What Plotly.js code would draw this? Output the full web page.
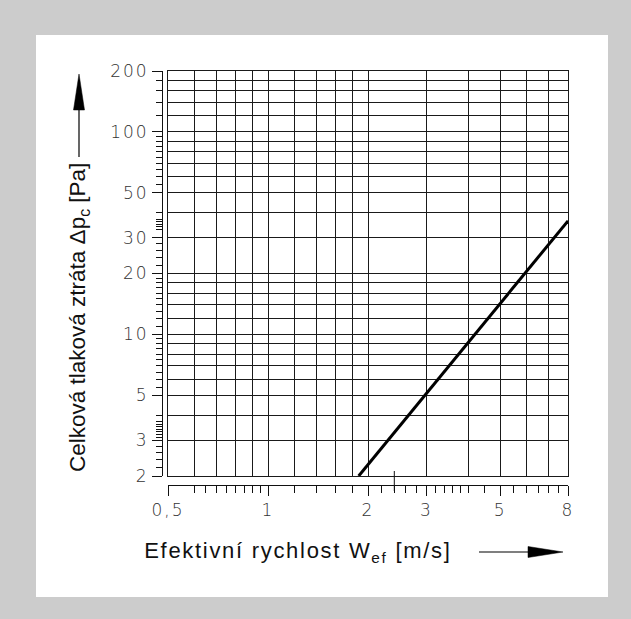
<!DOCTYPE html>
<html>
<head>
<meta charset="utf-8">
<script src="https://cdn.plot.ly/plotly-3.0.1.min.js"></script>
<style>
html,body{margin:0;padding:0;background:#cccccc;}
.x2tick text, text.x2tick, .y2tick text, text.y2tick { letter-spacing: 2px; }
.annotation[data-index="1"] text { letter-spacing: 1.7px; }
</style>
</head>
<body>
<div id="chart" style="width:631px;height:619px;"></div>
<script>
// ---- data ----
var lossVelocity = [1.875, 3, 8];        // W_ef [m/s]
var lossPressure = [2, 5.12, 36.4];      // Δp_c [Pa]

var xGridVals = [0.5, 0.6, 0.7, 0.8, 0.9, 1, 1.2, 1.4, 1.6, 1.8, 2, 3, 4, 5, 6, 7, 8];
var yGridVals = [2, 3, 4, 5, 6, 7, 8, 9, 10, 12, 14, 16, 18, 20, 30, 40, 50, 60, 70, 80, 90, 100, 120, 140, 160, 180, 200];

var xTickVals = [0.5, 1, 2, 3, 5, 8];
var xTickText = ['0,5', '1', '2', '3', '5', '8'];
var xMinorVals = [0.6, 0.65, 0.7, 0.75, 0.8, 0.85, 0.9, 0.95, 1.2, 1.4, 1.6, 1.8, 2.2, 2.4, 2.6, 2.8,
                  3.2, 3.4, 3.6, 3.8, 4, 4.5, 5.5, 6, 6.5, 7, 7.5];

var yTickVals = [2, 3, 5, 10, 20, 30, 50, 100, 200];
var yTickText = ['2', '3', '5', '10', '20', '30', '50', '100', '200'];
var yMinorVals = [180, 160, 140, 120, 95, 90, 85, 80, 75, 70, 65, 60, 55, 40, 37, 36, 35, 34, 33,
                  28, 26, 24, 22, 19, 18, 17, 16, 15, 14, 13, 12, 11,
                  9.5, 9, 8.5, 8, 7.5, 7, 6.5, 6, 5.5, 4, 3.7, 3.6, 3.5, 3.4, 3.3, 3.2, 3.1,
                  2.8, 2.6, 2.4, 2.2];
var markerTickX = 2.4;

// ---- layout geometry (pixels) ----
var W = 631, H = 619;
var L = 162, R = 570, T = 71, B = 485;
function fx(px) { return (px - L) / (R - L); }
function fy(py) { return (B - py) / (B - T); }

var lg = Math.log10;
var tickFont = {family: 'DejaVu Sans', size: 17, color: '#333', weight: 300};
var yTitleFont = {family: 'Liberation Sans, Arial, sans-serif', size: 22.5, color: '#111'};
var xTitleFont = {family: 'Liberation Sans, Arial, sans-serif', size: 22, color: '#111'};

var traces = [{
  type: 'scatter', mode: 'lines',
  x: lossVelocity, y: lossPressure,
  xaxis: 'x', yaxis: 'y',
  line: {color: '#000', width: 3},
  hoverinfo: 'skip', showlegend: false
}, {
  type: 'scatter', mode: 'lines',
  x: [0.5, 8], y: [2, 200], xaxis: 'x2', yaxis: 'y2',
  line: {width: 0}, opacity: 0, hoverinfo: 'skip', showlegend: false
}];

var layout = {
  width: W, height: H,
  margin: {l: L, r: W - R, t: T, b: H - B, pad: 0},
  paper_bgcolor: '#cccccc', plot_bgcolor: 'rgba(0,0,0,0)',
  showlegend: false,
  xaxis: {
    type: 'log', range: [lg(0.5), lg(8)], domain: [fx(168), fx(568)],
    anchor: 'y', tickmode: 'array', tickvals: xGridVals, showticklabels: false,
    ticks: '', showgrid: true, gridcolor: '#1a1a1a', gridwidth: 1,
    showline: true, mirror: true, linecolor: '#1a1a1a', linewidth: 1, zeroline: false, fixedrange: true
  },
  yaxis: {
    type: 'log', range: [lg(2), lg(200)], domain: [fy(476), 1],
    anchor: 'x', tickmode: 'array', tickvals: yGridVals, showticklabels: false,
    ticks: '', showgrid: true, gridcolor: '#1a1a1a', gridwidth: 1,
    showline: true, mirror: true, linecolor: '#1a1a1a', linewidth: 1, zeroline: false, fixedrange: true
  },
  xaxis2: {
    type: 'log', range: [lg(0.5), lg(8)], domain: [fx(171), 1],
    anchor: 'free', position: 0, overlaying: 'x', side: 'bottom',
    tickmode: 'array', tickvals: xTickVals, ticktext: xTickText,
    ticks: 'outside', ticklen: 10, tickwidth: 1, tickcolor: '#111',
    minor: {tickmode: 'array', tickvals: xMinorVals, ticks: 'outside', ticklen: 7, tickwidth: 1, tickcolor: '#111', showgrid: false},
    showgrid: false, showline: true, linecolor: '#111', linewidth: 1, zeroline: false,
    tickfont: tickFont, fixedrange: true
  },
  yaxis2: {
    type: 'log', range: [lg(2), lg(200)], domain: [fy(476), 1],
    anchor: 'free', position: 0, overlaying: 'y', side: 'left',
    tickmode: 'array', tickvals: yTickVals, ticktext: yTickText,
    ticks: 'outside', ticklen: 10, tickwidth: 1, tickcolor: '#111',
    minor: {tickmode: 'array', tickvals: yMinorVals, ticks: 'outside', ticklen: 6, tickwidth: 1, tickcolor: '#111', showgrid: false},
    showgrid: false, showline: true, linecolor: '#111', linewidth: 1, zeroline: false,
    tickfont: tickFont, fixedrange: true
  },
  shapes: [
    // white panel
    {type: 'rect', xref: 'paper', yref: 'paper', layer: 'below',
     x0: fx(36), x1: fx(608), y0: fy(597), y1: fy(35),
     fillcolor: '#ffffff', line: {width: 0}},
    // tall marker tick on the velocity axis
    {type: 'line', xref: 'x2', yref: 'paper', x0: markerTickX, x1: markerTickX,
     y0: fy(491), y1: fy(471), line: {color: '#111', width: 1}},
    // y-axis arrow
    {type: 'line', xref: 'paper', yref: 'paper', x0: fx(79), x1: fx(79), y0: fy(157), y1: fy(105),
     line: {color: '#000', width: 1.2}},
    {type: 'path', xref: 'paper', yref: 'paper',
     path: 'M ' + fx(79) + ' ' + fy(74) + ' L ' + fx(73.5) + ' ' + fy(110) + ' L ' + fx(84.5) + ' ' + fy(110) + ' Z',
     fillcolor: '#000', line: {color: '#000', width: 0.5}},
    // x-axis arrow
    {type: 'line', xref: 'paper', yref: 'paper', x0: fx(479), x1: fx(532), y0: fy(552), y1: fy(552),
     line: {color: '#000', width: 1.2}},
    {type: 'path', xref: 'paper', yref: 'paper',
     path: 'M ' + fx(563) + ' ' + fy(552) + ' L ' + fx(528) + ' ' + fy(546.5) + ' L ' + fx(528) + ' ' + fy(557.5) + ' Z',
     fillcolor: '#000', line: {color: '#000', width: 0.5}}
  ],
  annotations: [
    {xref: 'paper', yref: 'paper', x: fx(79), y: fy(318), xanchor: 'center', yanchor: 'middle',
     textangle: -90, showarrow: false, font: yTitleFont,
     text: 'Celková tlaková ztráta Δp<sub>c</sub> [Pa]'},
    {xref: 'paper', yref: 'paper', x: fx(298), y: fy(552), xanchor: 'center', yanchor: 'middle',
     showarrow: false, font: xTitleFont,
     text: 'Efektivní rychlost W<sub>ef</sub> [m/s]'}
  ]
};

Plotly.newPlot('chart', traces, layout, {displayModeBar: false, staticPlot: true});
</script>
</body>
</html>
